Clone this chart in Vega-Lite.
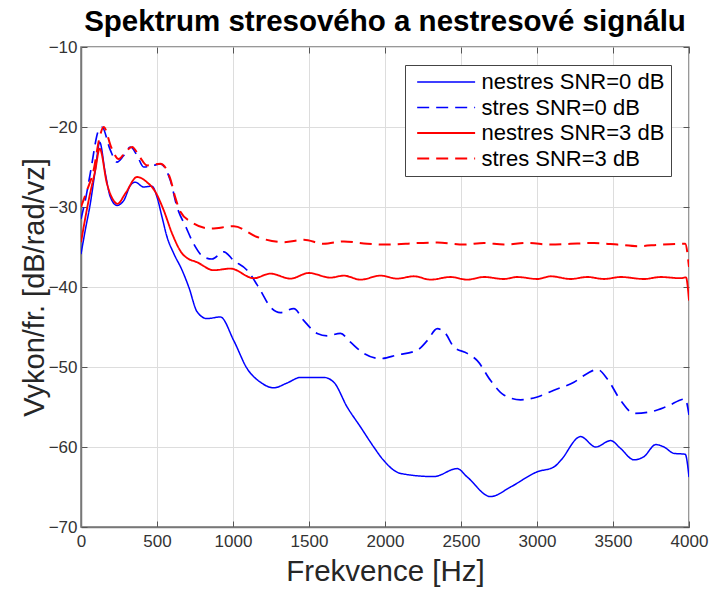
{
  "$schema": "https://vega.github.io/schema/vega-lite/v6.json",
  "autosize": {"type": "none"},
  "padding": {"left": 81, "top": 47, "right": 20, "bottom": 62},
  "width": 608,
  "height": 480,
  "background": "white",
  "title": {"text": "Spektrum stresového a nestresové signálu", "font": "Liberation Sans", "fontSize": 29.5, "fontWeight": "bold", "color": "#000000", "anchor": "middle", "offset": 1},
  "config": {
    "view": {"stroke": "#777777", "strokeWidth": 1.5},
    "axis": {"labelFont": "Liberation Sans", "titleFont": "Liberation Sans", "labelFontSize": 17, "labelColor": "#333333", "titleFontSize": 29.5, "titleFontWeight": "normal", "titleColor": "#262626", "domainColor": "#777777", "domainWidth": 1.5, "tickColor": "#555555", "tickSize": -6, "gridColor": "#dddddd", "gridWidth": 1, "format": "d"}
  },
  "data": {"values": [
    {"s": "nestres SNR=0 dB", "f": 0, "v": -35.9},
    {"s": "nestres SNR=0 dB", "f": 28, "v": -32.9},
    {"s": "nestres SNR=0 dB", "f": 61, "v": -29.6},
    {"s": "nestres SNR=0 dB", "f": 94, "v": -25.4},
    {"s": "nestres SNR=0 dB", "f": 123, "v": -21.9},
    {"s": "nestres SNR=0 dB", "f": 160, "v": -25.8},
    {"s": "nestres SNR=0 dB", "f": 193, "v": -28.75},
    {"s": "nestres SNR=0 dB", "f": 237, "v": -29.8},
    {"s": "nestres SNR=0 dB", "f": 281, "v": -29.2},
    {"s": "nestres SNR=0 dB", "f": 325, "v": -27.3},
    {"s": "nestres SNR=0 dB", "f": 357, "v": -26.9},
    {"s": "nestres SNR=0 dB", "f": 412, "v": -27.5},
    {"s": "nestres SNR=0 dB", "f": 467, "v": -27.4},
    {"s": "nestres SNR=0 dB", "f": 500, "v": -28.75},
    {"s": "nestres SNR=0 dB", "f": 533, "v": -31.25},
    {"s": "nestres SNR=0 dB", "f": 566, "v": -33.75},
    {"s": "nestres SNR=0 dB", "f": 610, "v": -35.8},
    {"s": "nestres SNR=0 dB", "f": 665, "v": -37.9},
    {"s": "nestres SNR=0 dB", "f": 709, "v": -40.0},
    {"s": "nestres SNR=0 dB", "f": 764, "v": -43.1},
    {"s": "nestres SNR=0 dB", "f": 829, "v": -43.95},
    {"s": "nestres SNR=0 dB", "f": 917, "v": -43.75},
    {"s": "nestres SNR=0 dB", "f": 1005, "v": -46.7},
    {"s": "nestres SNR=0 dB", "f": 1093, "v": -50.2},
    {"s": "nestres SNR=0 dB", "f": 1180, "v": -51.9},
    {"s": "nestres SNR=0 dB", "f": 1268, "v": -52.6},
    {"s": "nestres SNR=0 dB", "f": 1356, "v": -52.0},
    {"s": "nestres SNR=0 dB", "f": 1444, "v": -51.3},
    {"s": "nestres SNR=0 dB", "f": 1597, "v": -51.3},
    {"s": "nestres SNR=0 dB", "f": 1663, "v": -51.9},
    {"s": "nestres SNR=0 dB", "f": 1751, "v": -55.0},
    {"s": "nestres SNR=0 dB", "f": 1839, "v": -57.5},
    {"s": "nestres SNR=0 dB", "f": 1926, "v": -60.0},
    {"s": "nestres SNR=0 dB", "f": 1992, "v": -61.7},
    {"s": "nestres SNR=0 dB", "f": 2102, "v": -63.3},
    {"s": "nestres SNR=0 dB", "f": 2321, "v": -63.7},
    {"s": "nestres SNR=0 dB", "f": 2475, "v": -62.7},
    {"s": "nestres SNR=0 dB", "f": 2541, "v": -63.75},
    {"s": "nestres SNR=0 dB", "f": 2695, "v": -66.2},
    {"s": "nestres SNR=0 dB", "f": 2826, "v": -65.0},
    {"s": "nestres SNR=0 dB", "f": 3002, "v": -63.1},
    {"s": "nestres SNR=0 dB", "f": 3111, "v": -62.5},
    {"s": "nestres SNR=0 dB", "f": 3155, "v": -61.7},
    {"s": "nestres SNR=0 dB", "f": 3287, "v": -58.7},
    {"s": "nestres SNR=0 dB", "f": 3386, "v": -60.0},
    {"s": "nestres SNR=0 dB", "f": 3485, "v": -59.2},
    {"s": "nestres SNR=0 dB", "f": 3551, "v": -60.2},
    {"s": "nestres SNR=0 dB", "f": 3638, "v": -61.6},
    {"s": "nestres SNR=0 dB", "f": 3704, "v": -61.2},
    {"s": "nestres SNR=0 dB", "f": 3781, "v": -59.7},
    {"s": "nestres SNR=0 dB", "f": 3836, "v": -60.0},
    {"s": "nestres SNR=0 dB", "f": 3901, "v": -60.8},
    {"s": "nestres SNR=0 dB", "f": 3975, "v": -60.9},
    {"s": "nestres SNR=0 dB", "f": 4000, "v": -63.75},

    {"s": "stres SNR=0 dB", "f": 0, "v": -31.5},
    {"s": "stres SNR=0 dB", "f": 30, "v": -29.0},
    {"s": "stres SNR=0 dB", "f": 61, "v": -25.8},
    {"s": "stres SNR=0 dB", "f": 116, "v": -20.4},
    {"s": "stres SNR=0 dB", "f": 138, "v": -20.0},
    {"s": "stres SNR=0 dB", "f": 193, "v": -22.9},
    {"s": "stres SNR=0 dB", "f": 237, "v": -24.4},
    {"s": "stres SNR=0 dB", "f": 280, "v": -23.6},
    {"s": "stres SNR=0 dB", "f": 325, "v": -22.5},
    {"s": "stres SNR=0 dB", "f": 370, "v": -23.6},
    {"s": "stres SNR=0 dB", "f": 412, "v": -25.0},
    {"s": "stres SNR=0 dB", "f": 478, "v": -24.8},
    {"s": "stres SNR=0 dB", "f": 522, "v": -24.6},
    {"s": "stres SNR=0 dB", "f": 588, "v": -26.7},
    {"s": "stres SNR=0 dB", "f": 632, "v": -30.0},
    {"s": "stres SNR=0 dB", "f": 690, "v": -32.5},
    {"s": "stres SNR=0 dB", "f": 741, "v": -34.6},
    {"s": "stres SNR=0 dB", "f": 807, "v": -36.25},
    {"s": "stres SNR=0 dB", "f": 862, "v": -36.5},
    {"s": "stres SNR=0 dB", "f": 939, "v": -35.6},
    {"s": "stres SNR=0 dB", "f": 1005, "v": -36.7},
    {"s": "stres SNR=0 dB", "f": 1093, "v": -37.9},
    {"s": "stres SNR=0 dB", "f": 1180, "v": -40.4},
    {"s": "stres SNR=0 dB", "f": 1246, "v": -42.5},
    {"s": "stres SNR=0 dB", "f": 1312, "v": -43.2},
    {"s": "stres SNR=0 dB", "f": 1400, "v": -42.7},
    {"s": "stres SNR=0 dB", "f": 1466, "v": -44.2},
    {"s": "stres SNR=0 dB", "f": 1554, "v": -45.8},
    {"s": "stres SNR=0 dB", "f": 1620, "v": -46.1},
    {"s": "stres SNR=0 dB", "f": 1707, "v": -45.8},
    {"s": "stres SNR=0 dB", "f": 1773, "v": -46.9},
    {"s": "stres SNR=0 dB", "f": 1861, "v": -48.3},
    {"s": "stres SNR=0 dB", "f": 1970, "v": -48.95},
    {"s": "stres SNR=0 dB", "f": 2080, "v": -48.5},
    {"s": "stres SNR=0 dB", "f": 2212, "v": -47.9},
    {"s": "stres SNR=0 dB", "f": 2278, "v": -46.7},
    {"s": "stres SNR=0 dB", "f": 2344, "v": -45.2},
    {"s": "stres SNR=0 dB", "f": 2398, "v": -45.8},
    {"s": "stres SNR=0 dB", "f": 2453, "v": -47.5},
    {"s": "stres SNR=0 dB", "f": 2541, "v": -48.3},
    {"s": "stres SNR=0 dB", "f": 2607, "v": -49.2},
    {"s": "stres SNR=0 dB", "f": 2695, "v": -51.7},
    {"s": "stres SNR=0 dB", "f": 2782, "v": -53.5},
    {"s": "stres SNR=0 dB", "f": 2892, "v": -54.1},
    {"s": "stres SNR=0 dB", "f": 3002, "v": -53.75},
    {"s": "stres SNR=0 dB", "f": 3111, "v": -52.9},
    {"s": "stres SNR=0 dB", "f": 3243, "v": -51.9},
    {"s": "stres SNR=0 dB", "f": 3331, "v": -50.8},
    {"s": "stres SNR=0 dB", "f": 3397, "v": -50.3},
    {"s": "stres SNR=0 dB", "f": 3463, "v": -51.5},
    {"s": "stres SNR=0 dB", "f": 3551, "v": -54.2},
    {"s": "stres SNR=0 dB", "f": 3638, "v": -55.8},
    {"s": "stres SNR=0 dB", "f": 3748, "v": -55.6},
    {"s": "stres SNR=0 dB", "f": 3858, "v": -54.9},
    {"s": "stres SNR=0 dB", "f": 3975, "v": -54.0},
    {"s": "stres SNR=0 dB", "f": 4000, "v": -56.0},

    {"s": "nestres SNR=3 dB", "f": 0, "v": -34.4},
    {"s": "nestres SNR=3 dB", "f": 50, "v": -29.2},
    {"s": "nestres SNR=3 dB", "f": 94, "v": -25.4},
    {"s": "nestres SNR=3 dB", "f": 123, "v": -22.7},
    {"s": "nestres SNR=3 dB", "f": 171, "v": -27.1},
    {"s": "nestres SNR=3 dB", "f": 215, "v": -29.2},
    {"s": "nestres SNR=3 dB", "f": 240, "v": -29.6},
    {"s": "nestres SNR=3 dB", "f": 292, "v": -28.3},
    {"s": "nestres SNR=3 dB", "f": 369, "v": -26.25},
    {"s": "nestres SNR=3 dB", "f": 434, "v": -26.9},
    {"s": "nestres SNR=3 dB", "f": 489, "v": -28.1},
    {"s": "nestres SNR=3 dB", "f": 544, "v": -30.4},
    {"s": "nestres SNR=3 dB", "f": 599, "v": -33.3},
    {"s": "nestres SNR=3 dB", "f": 665, "v": -35.8},
    {"s": "nestres SNR=3 dB", "f": 700, "v": -36.4},
    {"s": "nestres SNR=3 dB", "f": 763, "v": -36.9},
    {"s": "nestres SNR=3 dB", "f": 873, "v": -37.9},
    {"s": "nestres SNR=3 dB", "f": 983, "v": -37.7},
    {"s": "nestres SNR=3 dB", "f": 1137, "v": -38.9},
    {"s": "nestres SNR=3 dB", "f": 1246, "v": -38.33},
    {"s": "nestres SNR=3 dB", "f": 1378, "v": -38.95},
    {"s": "nestres SNR=3 dB", "f": 1499, "v": -38.25},
    {"s": "nestres SNR=3 dB", "f": 1641, "v": -38.83},
    {"s": "nestres SNR=3 dB", "f": 1729, "v": -38.58},
    {"s": "nestres SNR=3 dB", "f": 1839, "v": -39.08},
    {"s": "nestres SNR=3 dB", "f": 1970, "v": -38.58},
    {"s": "nestres SNR=3 dB", "f": 2080, "v": -38.95},
    {"s": "nestres SNR=3 dB", "f": 2190, "v": -38.66},
    {"s": "nestres SNR=3 dB", "f": 2300, "v": -39.08},
    {"s": "nestres SNR=3 dB", "f": 2431, "v": -38.75},
    {"s": "nestres SNR=3 dB", "f": 2541, "v": -39.08},
    {"s": "nestres SNR=3 dB", "f": 2651, "v": -38.75},
    {"s": "nestres SNR=3 dB", "f": 2782, "v": -39.0},
    {"s": "nestres SNR=3 dB", "f": 2870, "v": -38.75},
    {"s": "nestres SNR=3 dB", "f": 3002, "v": -39.0},
    {"s": "nestres SNR=3 dB", "f": 3090, "v": -38.66},
    {"s": "nestres SNR=3 dB", "f": 3221, "v": -39.0},
    {"s": "nestres SNR=3 dB", "f": 3331, "v": -38.75},
    {"s": "nestres SNR=3 dB", "f": 3441, "v": -39.0},
    {"s": "nestres SNR=3 dB", "f": 3551, "v": -38.75},
    {"s": "nestres SNR=3 dB", "f": 3704, "v": -39.0},
    {"s": "nestres SNR=3 dB", "f": 3814, "v": -38.75},
    {"s": "nestres SNR=3 dB", "f": 3945, "v": -38.9},
    {"s": "nestres SNR=3 dB", "f": 3980, "v": -38.8},
    {"s": "nestres SNR=3 dB", "f": 4000, "v": -41.7},

    {"s": "stres SNR=3 dB", "f": 0, "v": -30.0},
    {"s": "stres SNR=3 dB", "f": 40, "v": -27.9},
    {"s": "stres SNR=3 dB", "f": 83, "v": -25.4},
    {"s": "stres SNR=3 dB", "f": 120, "v": -21.5},
    {"s": "stres SNR=3 dB", "f": 149, "v": -20.0},
    {"s": "stres SNR=3 dB", "f": 200, "v": -22.6},
    {"s": "stres SNR=3 dB", "f": 248, "v": -24.0},
    {"s": "stres SNR=3 dB", "f": 290, "v": -23.2},
    {"s": "stres SNR=3 dB", "f": 336, "v": -22.5},
    {"s": "stres SNR=3 dB", "f": 385, "v": -23.7},
    {"s": "stres SNR=3 dB", "f": 434, "v": -24.8},
    {"s": "stres SNR=3 dB", "f": 522, "v": -24.6},
    {"s": "stres SNR=3 dB", "f": 588, "v": -26.5},
    {"s": "stres SNR=3 dB", "f": 620, "v": -28.8},
    {"s": "stres SNR=3 dB", "f": 654, "v": -30.6},
    {"s": "stres SNR=3 dB", "f": 720, "v": -31.8},
    {"s": "stres SNR=3 dB", "f": 851, "v": -32.7},
    {"s": "stres SNR=3 dB", "f": 1005, "v": -32.4},
    {"s": "stres SNR=3 dB", "f": 1159, "v": -33.75},
    {"s": "stres SNR=3 dB", "f": 1334, "v": -34.4},
    {"s": "stres SNR=3 dB", "f": 1466, "v": -34.1},
    {"s": "stres SNR=3 dB", "f": 1597, "v": -34.6},
    {"s": "stres SNR=3 dB", "f": 1729, "v": -34.3},
    {"s": "stres SNR=3 dB", "f": 1883, "v": -34.6},
    {"s": "stres SNR=3 dB", "f": 2036, "v": -34.7},
    {"s": "stres SNR=3 dB", "f": 2212, "v": -34.5},
    {"s": "stres SNR=3 dB", "f": 2344, "v": -34.45},
    {"s": "stres SNR=3 dB", "f": 2519, "v": -34.7},
    {"s": "stres SNR=3 dB", "f": 2651, "v": -34.5},
    {"s": "stres SNR=3 dB", "f": 2782, "v": -34.7},
    {"s": "stres SNR=3 dB", "f": 2936, "v": -34.5},
    {"s": "stres SNR=3 dB", "f": 3090, "v": -34.7},
    {"s": "stres SNR=3 dB", "f": 3221, "v": -34.6},
    {"s": "stres SNR=3 dB", "f": 3375, "v": -34.5},
    {"s": "stres SNR=3 dB", "f": 3529, "v": -34.7},
    {"s": "stres SNR=3 dB", "f": 3660, "v": -34.9},
    {"s": "stres SNR=3 dB", "f": 3814, "v": -34.7},
    {"s": "stres SNR=3 dB", "f": 3975, "v": -34.6},
    {"s": "stres SNR=3 dB", "f": 4000, "v": -37.5}
  ]},
  "layer": [
    {
      "mark": {"type": "line", "interpolate": "monotone", "clip": true},
      "encoding": {
        "x": {"field": "f", "type": "quantitative", "scale": {"domain": [0, 4000], "nice": false, "zero": false},
              "axis": {"title": "Frekvence [Hz]", "values": [0, 500, 1000, 1500, 2000, 2500, 3000, 3500, 4000], "labelPadding": 12, "titlePadding": 8, "grid": true, "labelFlush": false}},
        "y": {"field": "v", "type": "quantitative", "scale": {"domain": [-70, -10], "nice": false, "zero": false},
              "axis": {"title": "Vykon/fr. [dB/rad/vz]", "values": [-70, -60, -50, -40, -30, -20, -10], "labelPadding": 10, "titlePadding": -1, "titleFontSize": 29, "grid": true}},
        "color": {"field": "s", "type": "nominal",
          "scale": {"domain": ["nestres SNR=0 dB", "stres SNR=0 dB", "nestres SNR=3 dB", "stres SNR=3 dB"], "range": ["#0000ff", "#0000ff", "#ff0000", "#ff0000"]},
          "legend": {"orient": "none", "legendX": 324, "legendY": 18, "title": null, "symbolType": "M-0.5,0H5.5", "symbolSize": 373, "symbolStrokeWidth": 1.5, "labelFont": "Liberation Sans", "labelFontSize": 22, "labelLimit": 400, "labelColor": "#000000", "labelOffset": 48.5, "padding": 6, "rowPadding": 3.5, "strokeColor": "#444444", "fillColor": "white", "cornerRadius": 0}},
        "strokeDash": {"field": "s", "type": "nominal",
          "scale": {"domain": ["nestres SNR=0 dB", "stres SNR=0 dB", "nestres SNR=3 dB", "stres SNR=3 dB"], "range": [[1, 0], [12, 7], [1, 0], [12, 7]]}},
        "strokeWidth": {"field": "s", "type": "nominal", "legend": null,
          "scale": {"domain": ["nestres SNR=0 dB", "stres SNR=0 dB", "nestres SNR=3 dB", "stres SNR=3 dB"], "range": [1.5, 2, 1.3, 1.3]}}
      }
    },
    {
      "mark": {"type": "line", "opacity": 0},
      "encoding": {
        "x": {"field": "f", "type": "quantitative", "axis": {"orient": "top", "labels": false, "title": null, "grid": false, "domain": false, "values": [0, 500, 1000, 1500, 2000, 2500, 3000, 3500, 4000]}},
        "y": {"field": "v", "type": "quantitative", "axis": {"orient": "right", "labels": false, "title": null, "grid": false, "domain": false, "values": [-70, -60, -50, -40, -30, -20, -10]}},
        "detail": {"field": "s"}
      }
    }
  ],
  "resolve": {"axis": {"x": "independent", "y": "independent"}}
}
